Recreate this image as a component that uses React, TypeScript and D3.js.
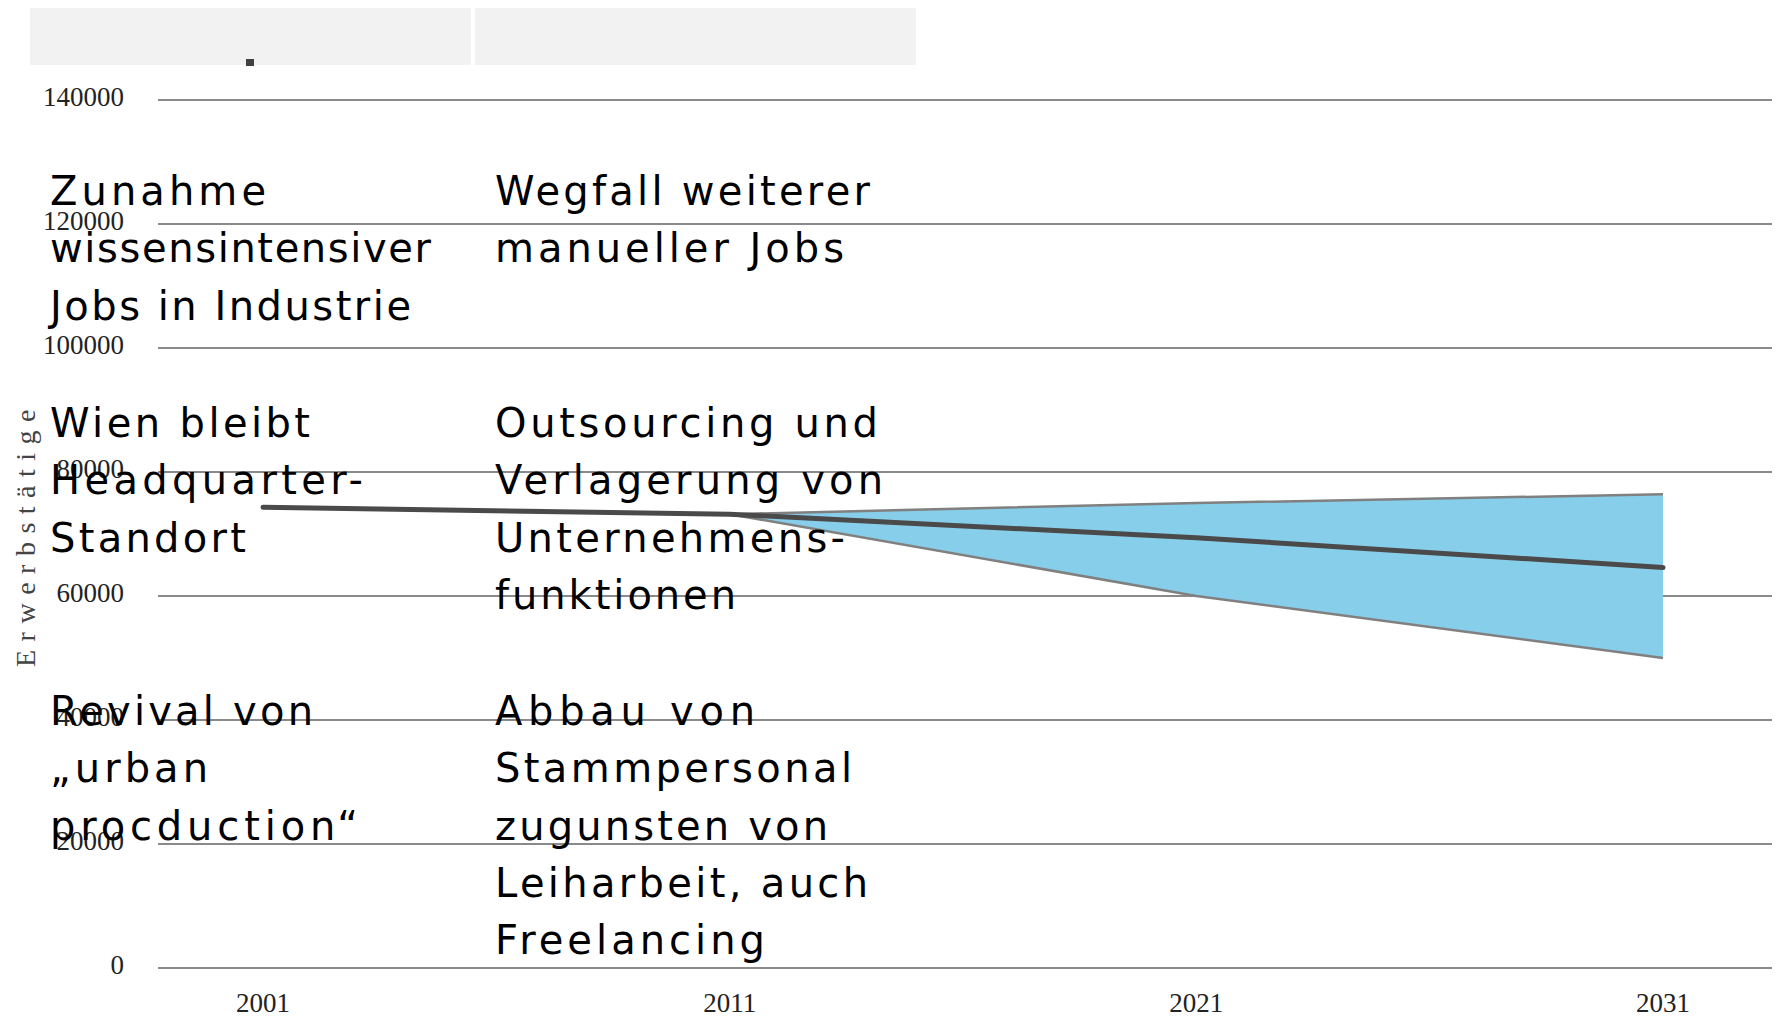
import React from "react";
import * as d3 from "d3";

const years = [2001, 2011, 2021, 2031];
const mainSeries = [74300, 73200, 69400, 64600];
const bandYears = [2011, 2021, 2031];
const upperSeries = [73200, 75000, 76400];
const lowerSeries = [73200, 60000, 50000];
const yTicks = [0, 20000, 40000, 60000, 80000, 100000, 120000, 140000];
const axisTitle = "Erwerbstätige";

const col1Blocks = [
  ["Zunahme", "wissensintensiver", "Jobs in Industrie"],
  ["Wien bleibt", "Headquarter-", "Standort"],
  ["Revival von", "„urban", "procduction“"],
];
const col2Blocks = [
  ["Wegfall weiterer", "manueller Jobs"],
  ["Outsourcing und", "Verlagerung von", "Unternehmens-", "funktionen"],
  ["Abbau von", "Stammpersonal", "zugunsten von", "Leiharbeit, auch", "Freelancing"],
];
// measured rendered line widths (layout only)
const col1Widths = [
  [216, 381, 361],
  [260, 313, 196],
  [263, 158, 308],
];
const col2Widths = [
  [375, 349],
  [383, 388, 350, 241],
  [260, 357, 333, 373, 270],
];

const W = 1776;
const H = 1018;

export default function App() {
  const x = d3.scaleLinear().domain([2001, 2031]).range([263, 1663]);
  const y = d3.scaleLinear().domain([0, 140000]).range([968, 100]);

  const mainLine = d3
    .line<number>()
    .x((_, i) => x(years[i]))
    .y((d) => y(d))(mainSeries) as string;
  const upperLine = d3
    .line<number>()
    .x((_, i) => x(bandYears[i]))
    .y((d) => y(d))(upperSeries) as string;
  const lowerLine = d3
    .line<number>()
    .x((_, i) => x(bandYears[i]))
    .y((d) => y(d))(lowerSeries) as string;
  const band = d3
    .area<number>()
    .x((_, i) => x(bandYears[i]))
    .y0((_, i) => y(lowerSeries[i]))
    .y1((d) => y(d))(upperSeries) as string;

  const blockStarts = [205, 437, 725];
  const lh = 57.3;
  const annoStyle: React.CSSProperties = {
    fontFamily: "'DejaVu Sans', sans-serif",
    fontSize: 40,
  };

  return (
    <svg
      width={W}
      height={H}
      style={{ position: "absolute", left: 0, top: 0, background: "#fff" }}
    >
      <rect x={30} y={8} width={441} height={57} fill="#f2f2f2" />
      <rect x={475} y={8} width={441} height={57} fill="#f2f2f2" />
      <rect x={246} y={59} width={8} height={7} fill="#404040" />

      {yTicks.map((t) => (
        <g key={t}>
          <line x1={158} x2={1772} y1={y(t)} y2={y(t)} stroke="#8a8a8a" strokeWidth={2} />
          <text
            x={124}
            y={y(t) + 6}
            textAnchor="end"
            fontFamily="'Liberation Serif', 'Times New Roman', serif"
            fontSize={27}
            fill="#222"
          >
            {t}
          </text>
        </g>
      ))}

      {years.map((yr) => (
        <text
          key={yr}
          x={x(yr)}
          y={1012}
          textAnchor="middle"
          fontFamily="'Liberation Serif', 'Times New Roman', serif"
          fontSize={27}
          fill="#222"
        >
          {yr}
        </text>
      ))}

      <text
        transform="translate(35,667) rotate(-90)"
        fontFamily="'Liberation Serif', 'Times New Roman', serif"
        fontSize={28}
        letterSpacing={8.5}
        fill="#444"
      >
        {axisTitle}
      </text>

      <path d={band} fill="#87ceea" />
      <path d={upperLine} fill="none" stroke="#808080" strokeWidth={2.5} />
      <path d={lowerLine} fill="none" stroke="#808080" strokeWidth={2.5} />
      <path
        d={mainLine}
        fill="none"
        stroke="#4a4a4a"
        strokeWidth={5}
        strokeLinecap="round"
        strokeLinejoin="round"
      />

      {col1Blocks.map((blk, bi) =>
        blk.map((ln, li) => (
          <text
            key={`a${bi}-${li}`}
            x={50}
            y={blockStarts[bi] + li * lh}
            style={annoStyle}
            textLength={col1Widths[bi][li]}
            lengthAdjust="spacing"
            fill="#000"
          >
            {ln}
          </text>
        ))
      )}
      {col2Blocks.map((blk, bi) =>
        blk.map((ln, li) => (
          <text
            key={`b${bi}-${li}`}
            x={495}
            y={blockStarts[bi] + li * lh}
            style={annoStyle}
            textLength={col2Widths[bi][li]}
            lengthAdjust="spacing"
            fill="#000"
          >
            {ln}
          </text>
        ))
      )}
    </svg>
  );
}
